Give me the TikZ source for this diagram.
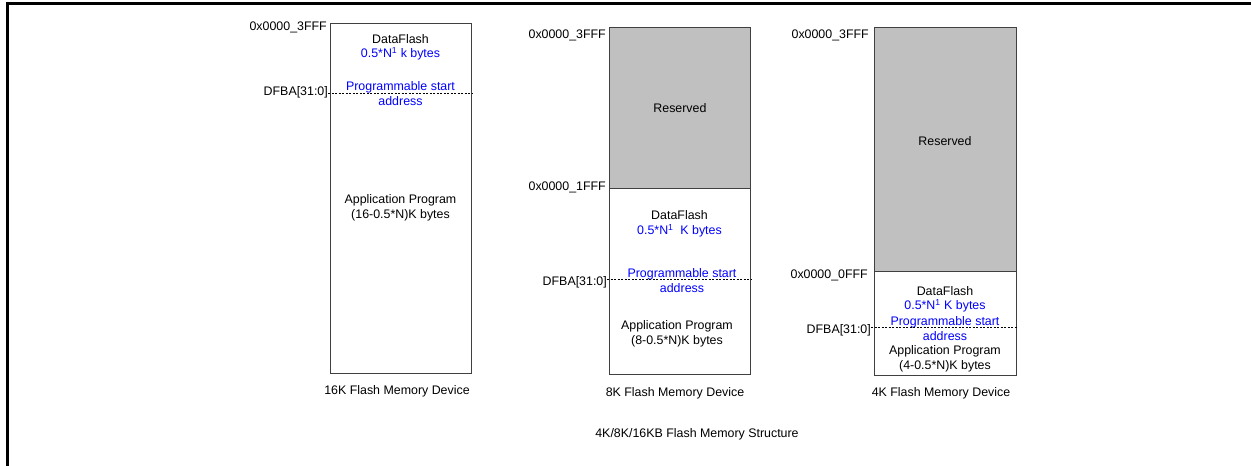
\documentclass[tikz,border=0pt]{standalone}
\usepackage{fontspec}
\setmainfont{Liberation Sans}
\usetikzlibrary{positioning}
\definecolor{resgray}{RGB}{192,192,192}
\definecolor{addrblue}{RGB}{0,0,255}
\begin{document}
\begin{tikzpicture}[x=1pt,y=-1pt,
   every node/.style={font=\fontsize{12.4}{15}\selectfont, inner sep=0pt},
   memblock/.style={draw=black!75, line width=0.9pt, anchor=north west,
                    minimum width=141pt, inner sep=0pt},
   reserved/.style={memblock, fill=resgray},
   addr/.style={anchor=east},
   bluetext/.style={text=addrblue, align=center},
   plain/.style={align=center},
   dfbaline/.style={line width=0.9pt, dash pattern=on 2pt off 1.5pt}]

\useasboundingbox (0,0) rectangle (1251,466);
\draw[line width=3pt] (7,466) -- (7,3) -- (1251,3);

\node[memblock, minimum height=350pt] (dev16) at (330,23) {};
\node[addr] (top16) at (327,27) {0x0000\_3FFF};
\node[plain] (df16) at (400.5,39) {DataFlash};
\node[bluetext] (sz16) at (400.5,54) {0.5*N\textsuperscript{1} k bytes};
\node[bluetext] (ps16) at (400.5,93.5) {Programmable start\\address};
\node[addr] (dfba16) at (328,92) {DFBA[31:0]};
\draw[dfbaline] (dfba16.east |- 0,93) -- (dev16.east |- 0,93);
\node[plain] (app16) at (400.5,207.5) {Application Program\\(16-0.5*N)K bytes};
\node (name16) at (397,391) {16K Flash Memory Device};

\node[reserved, minimum height=161pt] (res8) at (609,27) {};
\node[memblock, minimum height=186pt] (dev8) at (609,188) {};
\node (rtxt8) at (res8.center) {Reserved};
\node[addr] (top8) at (606,35) {0x0000\_3FFF};
\node[addr] (mid8) at (606,187) {0x0000\_1FFF};
\node[plain] (df8) at (679.5,215) {DataFlash};
\node[bluetext] (sz8) at (679.5,231) {0.5*N\textsuperscript{1}\ \ K bytes};
\node[bluetext] (ps8) at (682,281) {Programmable start\\address};
\node[addr] (dfba8) at (607,282) {DFBA[31:0]};
\draw[dfbaline] (dfba8.east |- 0,279) -- (dev8.east |- 0,279);
\node[plain] (app8) at (677,334) {Application Program\\(8-0.5*N)K bytes};
\node (name8) at (675,393) {8K Flash Memory Device};

\node[reserved, minimum height=244pt, minimum width=142pt] (res4) at (874,27) {};
\node[memblock, minimum height=104pt, minimum width=142pt] (dev4) at (874,271) {};
\node (rtxt4) at (945,141) {Reserved};
\node[addr] (top4) at (869,35) {0x0000\_3FFF};
\node[addr] (mid4) at (868,275) {0x0000\_0FFF};
\node[plain] (df4) at (945,291) {DataFlash};
\node[bluetext] (sz4) at (945,306) {0.5*N\textsuperscript{1} K bytes};
\node[bluetext] (ps4) at (945,328.5) {Programmable start\\address};
\node[addr] (dfba4) at (871,330) {DFBA[31:0]};
\draw[dfbaline] (dfba4.east |- 0,327) -- (dev4.east |- 0,327);
\node[plain] (app4) at (945,358.5) {Application Program\\(4-0.5*N)K bytes};
\node (name4) at (941,393) {4K Flash Memory Device};

\node (title) at (697,434) {4K/8K/16KB Flash Memory Structure};

\end{tikzpicture}
\end{document}
